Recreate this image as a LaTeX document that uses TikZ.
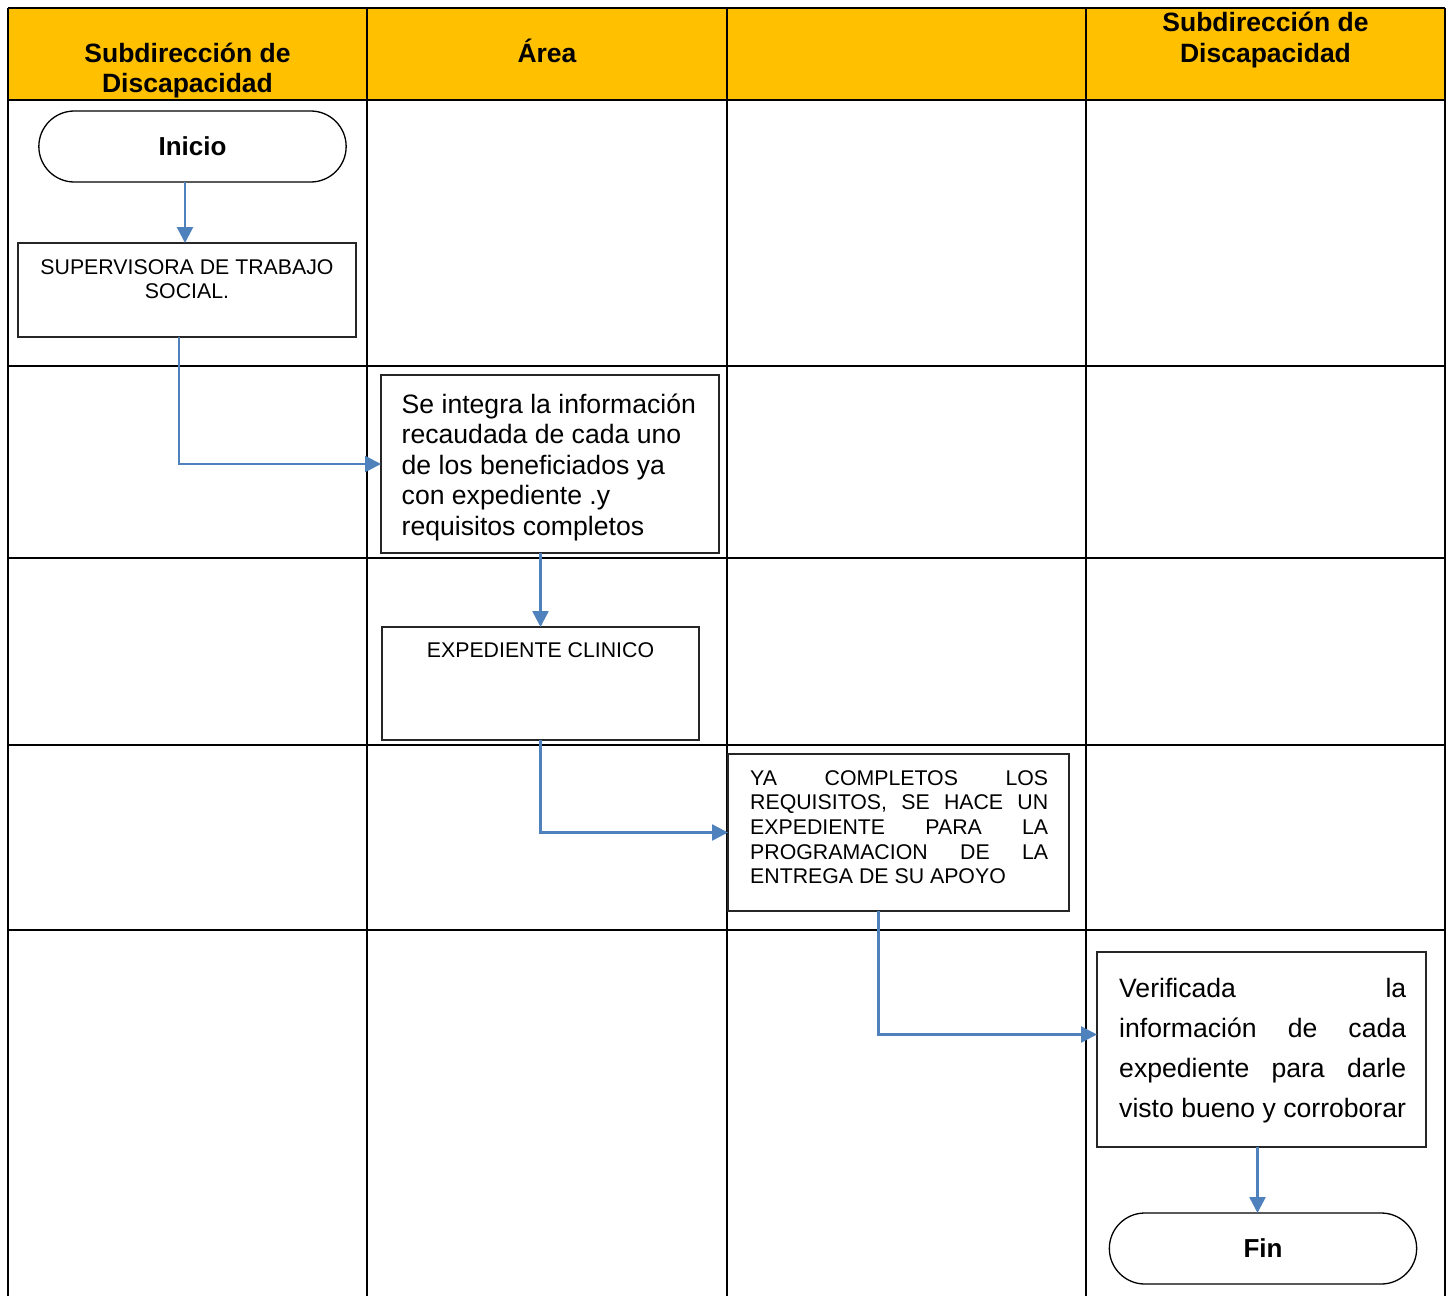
\documentclass[tikz,border=0pt]{standalone}
\usepackage{fontspec}
\setmainfont{Liberation Sans}
\usetikzlibrary{arrows.meta, shapes.misc, calc}
\definecolor{laneorange}{HTML}{FFC000}
\definecolor{flowblue}{HTML}{4F81BD}

\begin{document}
\begin{tikzpicture}[x=1pt, y=-1pt,
    laneline/.style ={line width=2pt, draw=black},
    headtext/.style ={font={\fontsize{26.5}{30.5}\selectfont\bfseries}, inner sep=0pt},
    termnode/.style ={rounded rectangle, draw=black, line width=1.3pt, outer sep=0pt,
                      minimum width=314pt, minimum height=71pt,
                      font={\fontsize{26}{30}\selectfont\bfseries}},
    procbox/.style  ={draw=black!85, line width=1.3pt, anchor=north west, inner sep=0pt, outer sep=0pt},
    bigtext/.style  ={font={\fontsize{26.6}{30.5}\selectfont}, inner sep=0pt},
    captext/.style  ={font={\fontsize{21.3}{24.7}\selectfont}, inner sep=0pt},
    flow/.style     ={-{Triangle[length=16pt, width=16pt]}, line width=2.5pt, draw=flowblue}
]
\useasboundingbox (0,0) rectangle (1452,1296);

% ---------- lanes ----------
\fill[laneorange] (8,8) rectangle (1445,100);
\foreach \ry in {8,100,366,558,745,930}
    \draw[laneline] (8,\ry) -- (1445,\ry);
\foreach \cx in {8,367,727,1086,1445}
    \draw[laneline] (\cx,8) -- (\cx,1296);

% ---------- lane titles ----------
\node[headtext, anchor=base] (laneA) at (187.5,62) {\parbox[t]{340pt}{\centering Subdirección de\\Discapacidad}};
\node[headtext, anchor=base] (laneB) at (547,62) {Área};
\node[headtext, anchor=base] (laneD) at (1265.5,31.5) {\parbox[t]{340pt}{\centering Subdirección de\\Discapacidad}};

% ---------- steps ----------
\node[termnode] (inicio) at (192.5,146.5) {Inicio};

\node[procbox, minimum width=338pt, minimum height=94pt] (sup) at (18,243) {};
\node[captext, anchor=base] (supText) at (187,274) {\parbox[t]{330pt}{\centering SUPERVISORA DE TRABAJO\\SOCIAL.}};

\node[procbox, minimum width=338pt, minimum height=178pt] (integra) at (381,375) {};
\node[bigtext, anchor=base west] (integraText) at (401.5,413)
    {\parbox[t]{310pt}{\raggedright Se integra la información\\recaudada de cada uno\\de los beneficiados ya\\con expediente .y\\requisitos completos}};

\node[procbox, minimum width=317pt, minimum height=113pt] (expediente) at (382,627) {};
\node[captext, anchor=base] (expText) at (540.5,657) {EXPEDIENTE CLINICO};

\node[procbox, minimum width=341pt, minimum height=157pt] (ya) at (728,754) {};
\node[captext, anchor=base west] (yaText) at (750,785)
    {\parbox[t]{298pt}{YA\hfill COMPLETOS\hfill LOS\\REQUISITOS,\hfill SE\hfill HACE\hfill UN\\EXPEDIENTE\hfill PARA\hfill LA\\PROGRAMACION\hfill DE\hfill LA\\ENTREGA DE SU APOYO}};

\node[procbox, minimum width=329pt, minimum height=195pt] (verif) at (1097,952) {};
\node[bigtext, anchor=base west, font={\fontsize{26.6}{40.3}\selectfont}] (verifText) at (1119,997)
    {\parbox[t]{287pt}{Verificada\hfill la\\información\hfill de\hfill cada\\expediente\hfill para\hfill darle\\visto bueno y corroborar}};

\node[termnode] (fin) at (1263,1248.5) {Fin};

% ---------- flow ----------
\draw[flow] ([xshift=-2pt]inicio.south -| sup.north) -- ([xshift=-2pt]sup.north);
\draw[flow] ([xshift=-8pt]sup.south) |- (integra.west);
\draw[flow] (integra.south -| expediente.north) -- (expediente.north);
\draw[flow] (expediente.south) |- (ya.west);
\draw[flow] ([xshift=-20pt]ya.south) |- ([yshift=15pt]verif.west);
\draw[flow] ([xshift=-4pt]verif.south) -- ([xshift=-4pt]verif.south |- fin.north);

\end{tikzpicture}
\end{document}
